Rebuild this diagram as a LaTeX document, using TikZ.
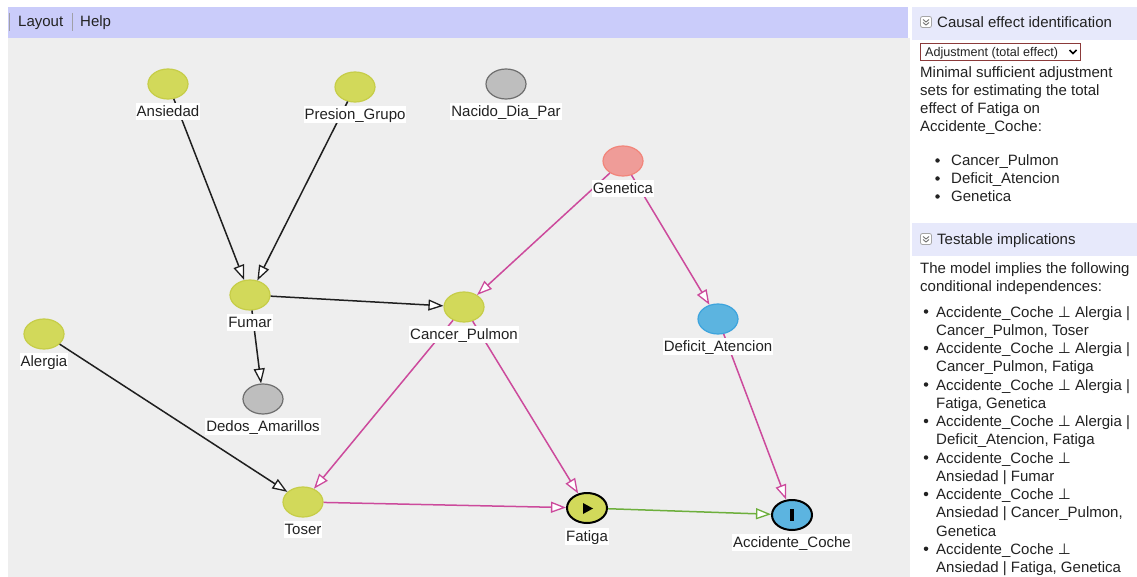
\documentclass[tikz,border=0pt]{standalone}
\usepackage{fontspec}
\setmainfont{Liberation Sans}
\newfontfamily\symfam{DejaVu Sans}
\usetikzlibrary{arrows.meta,shapes.geometric}

\definecolor{canvasgray}{HTML}{EEEEEE}
\definecolor{barblue}{HTML}{CACCFA}
\definecolor{headblue}{HTML}{E7E9FB}
\definecolor{txt}{HTML}{222222}
\definecolor{yfill}{HTML}{D2D95A}
\definecolor{ydraw}{HTML}{C6CD48}
\definecolor{gfill}{HTML}{BEBEBE}
\definecolor{gdraw}{HTML}{6E6E6E}
\definecolor{rfill}{HTML}{EF9C98}
\definecolor{rdraw}{HTML}{F2857A}
\definecolor{bfill}{HTML}{5CB4E0}
\definecolor{bdraw}{HTML}{3DA4DD}
\definecolor{pinkedge}{HTML}{CC4A9C}
\definecolor{greenedge}{HTML}{6DAF3C}
\definecolor{selborder}{HTML}{8B3A3A}
\definecolor{sepgray}{HTML}{A0A0A8}

\newcommand{\perpsym}{{\symfam ⊥}}

\begin{document}
\begin{tikzpicture}[x=1pt, y=-1pt,
  font=\fontsize{15}{18}\selectfont, text=txt,
  vnode/.style={ellipse, minimum width=40pt, minimum height=30pt, inner sep=0pt, line width=1.2pt},
  plain/.style={vnode, fill=yfill, draw=ydraw},
  unobs/.style={vnode, fill=gfill, draw=gdraw},
  ancout/.style={vnode, fill=rfill, draw=rdraw},
  ancexp/.style={vnode, fill=bfill, draw=bdraw},
  exposure/.style={vnode, fill=yfill, draw=black, line width=2pt},
  outcome/.style={vnode, fill=bfill, draw=black, line width=2pt},
  lbl/.style={fill=white, inner xsep=1pt, inner ysep=0.5pt, text height=13pt, text depth=3pt},
  edge/.style={line width=1.5pt, -{Triangle[length=15pt, width=11pt, fill=white, line width=1.3pt]}},
  blackedge/.style={edge, draw=black!88},
  pinkline/.style={edge, draw=pinkedge},
  greenline/.style={edge, draw=greenedge},
  ptext/.style={anchor=base west, inner sep=0pt},
  bullet/.style={circle, fill=txt, inner sep=0pt, minimum size=4.5pt},
  iconbox/.style={draw=gray!70, fill=white, rounded corners=2pt, line width=0.8pt},
  chev/.style={draw=gray!90!black, line width=0.9pt}
]
\useasboundingbox (0,0) rectangle (1137,577);
\fill[white] (0,0) rectangle (1137,577);

% drawing canvas and menu bar
\fill[canvasgray] (8,38) rectangle (910,577);
\fill[barblue] (8,7) rectangle (908,38);
\draw[sepgray, line width=1pt] (9.5,13) -- (9.5,31);
\draw[sepgray, line width=1pt] (72,13) -- (72,31);
\node[ptext] (menuLayout) at (18,27) {Layout};
\node[ptext] (menuHelp) at (80,27) {Help};

% variables
\node[plain]   (ans) at (168,84)  {};
\node[plain]   (pre) at (355,87)  {};
\node[unobs]   (nac) at (506,84)  {};
\node[ancout]  (gen) at (623,161) {};
\node[plain]   (fum) at (250,295) {};
\node[plain]   (can) at (464,307) {};
\node[ancexp]  (def) at (718,319) {};
\node[plain]   (ale) at (44,334)  {};
\node[unobs]   (ded) at (263,399) {};
\node[plain]   (tos) at (303,502) {};
\node[exposure] (fat) at (587,508) {};
\node[outcome]  (acc) at (792,515) {};

% exposure and outcome markers
\fill[black] (583,503) -- (583,514) -- (593,508.5) -- cycle;
\fill[black] (790.3,509) rectangle (793.7,521);

% arrows
\draw[blackedge] (ans) -- (fum);
\draw[blackedge] (pre) -- (fum);
\draw[blackedge] (fum) -- (can);
\draw[blackedge] (fum) -- (ded);
\draw[blackedge] (ale) -- (tos);
\draw[pinkline] (gen) -- (can);
\draw[pinkline] (gen) -- (def);
\draw[pinkline] (can) -- (tos);
\draw[pinkline] (can) -- (fat);
\draw[pinkline] (tos) -- (fat);
\draw[pinkline] (def) -- (acc);
\draw[greenline] (fat) -- (acc);

% variable names
\node[lbl] (ansL) at (168,111.5) {Ansiedad};
\node[lbl] (preL) at (355,114.5) {Presion\_Grupo};
\node[lbl] (nacL) at (506,111.5) {Nacido\_Dia\_Par};
\node[lbl] (genL) at (623,188.5) {Genetica};
\node[lbl] (fumL) at (250,322.5) {Fumar};
\node[lbl] (canL) at (464,334.5) {Cancer\_Pulmon};
\node[lbl] (defL) at (718,346.5) {Deficit\_Atencion};
\node[lbl] (aleL) at (44,361.5)  {Alergia};
\node[lbl] (dedL) at (263,426.5) {Dedos\_Amarillos};
\node[lbl] (tosL) at (303,529.5) {Toser};
\node[lbl] (fatL) at (587,536.5) {Fatiga};
\node[lbl] (accL) at (792,542.5) {Accidente\_Coche};

% side panel: causal effect identification
\fill[headblue] (912,7) rectangle (1137,40);
\draw[iconbox] (920.5,16.5) rectangle (931.5,27.5);
\draw[chev] (923,19.5) -- (926,22) -- (929,19.5);
\draw[chev] (923,22.5) -- (926,25) -- (929,22.5);
\node[ptext] (hdrCause) at (937,28) {Causal effect identification};

\draw[selborder, fill=white, line width=0.9pt] (920.5,43.5) rectangle (1080.5,60.5);
\node[ptext, font=\fontsize{12.6}{15}\selectfont] (selText) at (925,56.5) {Adjustment (total effect)};
\draw[black, line width=1.6pt] (1069.5,50) -- (1073,53.5) -- (1076.5,50);

\node[ptext] (p1) at (920,78)  {Minimal sufficient adjustment};
\node[ptext] (p2) at (920,96)  {sets for estimating the total};
\node[ptext] (p3) at (920,114) {effect of Fatiga on};
\node[ptext] (p4) at (920,132) {Accidente\_Coche:};

\foreach \yy/\tt in {166/Cancer\_Pulmon, 184/Deficit\_Atencion, 202/Genetica}{
  \node[bullet] at (937.5,\yy-5.5) {};
  \node[ptext] at (951,\yy) {\tt};
}

% side panel: testable implications
\fill[headblue] (912,223) rectangle (1137,256);
\draw[iconbox] (920.5,233.5) rectangle (931.5,244.5);
\draw[chev] (923,236.5) -- (926,239) -- (929,236.5);
\draw[chev] (923,239.5) -- (926,242) -- (929,239.5);
\node[ptext] (hdrTest) at (937,245) {Testable implications};

\node[ptext] (q1) at (920,273) {The model implies the following};
\node[ptext] (q2) at (920,291) {conditional independences:};

\foreach \k/\tt/\bul in {
  0/{Accidente\_Coche \perpsym\ Alergia |}/1,
  1/{Cancer\_Pulmon, Toser}/0,
  2/{Accidente\_Coche \perpsym\ Alergia |}/1,
  3/{Cancer\_Pulmon, Fatiga}/0,
  4/{Accidente\_Coche \perpsym\ Alergia |}/1,
  5/{Fatiga, Genetica}/0,
  6/{Accidente\_Coche \perpsym\ Alergia |}/1,
  7/{Deficit\_Atencion, Fatiga}/0,
  8/{Accidente\_Coche \perpsym}/1,
  9/{Ansiedad | Fumar}/0,
  10/{Accidente\_Coche \perpsym}/1,
  11/{Ansiedad | Cancer\_Pulmon,}/0,
  12/{Genetica}/0,
  13/{Accidente\_Coche \perpsym}/1,
  14/{Ansiedad | Fatiga, Genetica}/0}{
  \pgfmathsetmacro{\yy}{317+18.25*\k}
  \ifnum\bul=1 \node[bullet] at (926,\yy-5.5) {}; \fi
  \node[ptext] at (936,\yy) {\tt};
}
\end{tikzpicture}
\end{document}
